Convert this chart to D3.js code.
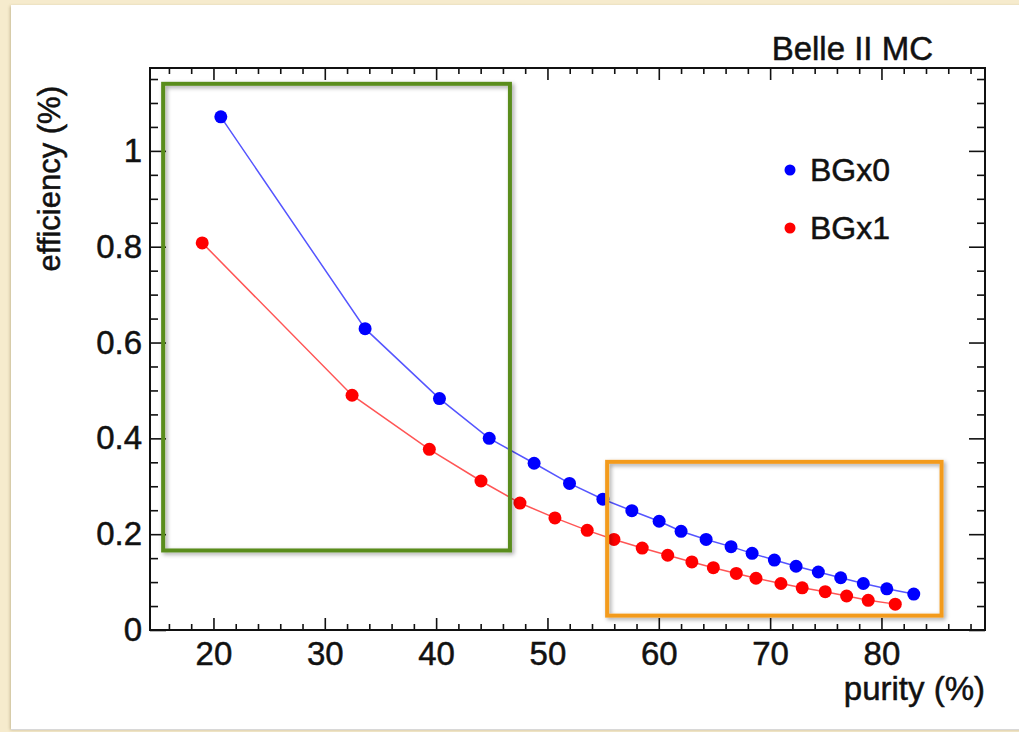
<!DOCTYPE html>
<html>
<head>
<meta charset="utf-8">
<script src="https://cdn.jsdelivr.net/npm/d3@7"></script>
<style>
  html, body { margin: 0; padding: 0; background: #f6ebcd; }
  svg { display: block; }
  text { font-family: "Liberation Sans", Arial, Helvetica, sans-serif; fill: #111; stroke: #111; stroke-width: 0.5px; }
</style>
</head>
<body>
<div id="chart"></div>
<script>
/* global d3 */

// purity (%) vs efficiency (%)
var bg0Purity = [20.66, 33.62, 40.3, 44.77, 48.8, 51.98, 54.98, 57.58, 60.03, 62.0,
  64.25, 66.49, 68.38, 70.38, 72.33, 74.33, 76.34, 78.37, 80.48, 82.9];
var bg0Eff = [1.071, 0.629, 0.483, 0.400, 0.348, 0.306, 0.273, 0.249, 0.227, 0.206,
  0.189, 0.174, 0.160, 0.146, 0.133, 0.121, 0.109, 0.097, 0.086, 0.075];
var bg1Purity = [18.99, 32.45, 39.39, 44.03, 47.53, 50.67, 53.57, 55.97, 58.51, 60.8,
  62.97, 64.9, 66.96, 68.73, 70.97, 72.88, 74.95, 76.87, 78.81, 81.24];
var bg1Eff = [0.808, 0.490, 0.377, 0.311, 0.265, 0.234, 0.208, 0.189, 0.171, 0.156,
  0.142, 0.130, 0.118, 0.108, 0.097, 0.088, 0.080, 0.071, 0.062, 0.054];

var seriesNames = ['BGx0', 'BGx1'];
var xMajorTicks = [20, 30, 40, 50, 60, 70, 80];
var yMajorTicks = [0, 0.2, 0.4, 0.6, 0.8, 1];

// highlight boxes in data units: [x0, x1, y0, y1]
var greenBox = [15.48, 46.63, 0.166, 1.14];
var orangeBox = [55.36, 85.4, 0.03, 0.351];

var w = 1019,
h = 732,
m = { left: 150, right: 34, top: 68, bottom: 102 };

var svg = d3.select('#chart').
append('svg').
attr('width', w).
attr('height', h);

var defs = svg.append('defs');
var shadow = defs.append('filter').attr('id', 'shadow').
attr('x', '-5%').attr('y', '-5%').attr('width', '115%').attr('height', '115%');
shadow.append('feDropShadow').attr('dx', 2).attr('dy', 2).
attr('stdDeviation', 2).attr('flood-color', '#000').attr('flood-opacity', 0.35);
var cardShadow = defs.append('filter').attr('id', 'cardShadow').
attr('x', '-5%').attr('y', '-5%').attr('width', '110%').attr('height', '110%');
cardShadow.append('feDropShadow').attr('dx', -1).attr('dy', 1).
attr('stdDeviation', 1.5).attr('flood-color', '#8a7a50').attr('flood-opacity', 0.45);

// white card on the beige page
svg.append('rect').
attr('x', 11).attr('y', 5).
attr('width', w).attr('height', 724).
attr('fill', '#fff').
attr('filter', 'url(#cardShadow)');
svg.append('line').
attr('x1', 11).attr('x2', w).attr('y1', 729.5).attr('y2', 729.5).
attr('stroke', '#d8d8d8').attr('stroke-width', 1);

var x = d3.scaleLinear().domain([14.3, 89.3]).range([m.left, w - m.right]);
var y = d3.scaleLinear().domain([0, 1.173]).range([h - m.bottom, m.top]);

var xMinor = d3.range(16, 89.3, 2).filter(v => xMajorTicks.indexOf(v) < 0);
var yMinor = d3.range(0.05, 1.17, 0.05).map(v => +v.toFixed(2)).
filter(v => yMajorTicks.every(t => Math.abs(t - v) > 1e-6));

var fmt = d => d === 0 ? '0' : d === 1 ? '1' : d3.format('.1f')(d);

function drawAxis(axis, tx, ty) {
  var g = svg.append('g').attr('transform', 'translate(' + tx + ',' + ty + ')').call(axis);
  g.select('.domain').remove();
  g.selectAll('line').attr('stroke', '#111').attr('stroke-width', 1.6);
  return g;
}

var plotH = h - m.bottom - m.top;
var plotW = w - m.right - m.left;

// bottom axis with labels, ticks inward
var xAxisG = drawAxis(d3.axisBottom(x).tickValues(xMajorTicks).tickSize(-12).tickPadding(12).tickFormat(d3.format('d')),
0, h - m.bottom);
xAxisG.selectAll('text').attr('font-size', 33).attr('fill', '#111');
drawAxis(d3.axisBottom(x).tickValues(xMinor).tickSize(-6).tickFormat(''), 0, h - m.bottom);
drawAxis(d3.axisTop(x).tickValues(xMajorTicks).tickSize(-12).tickFormat(''), 0, m.top);
drawAxis(d3.axisTop(x).tickValues(xMinor).tickSize(-6).tickFormat(''), 0, m.top);

var yAxisG = drawAxis(d3.axisLeft(y).tickValues(yMajorTicks).tickSize(-16).tickPadding(8).tickFormat(fmt),
m.left, 0);
yAxisG.selectAll('text').attr('font-size', 33).attr('fill', '#111');
drawAxis(d3.axisLeft(y).tickValues(yMinor).tickSize(-8).tickFormat(''), m.left, 0);
drawAxis(d3.axisRight(y).tickValues(yMajorTicks).tickSize(-16).tickFormat(''), w - m.right, 0);
drawAxis(d3.axisRight(y).tickValues(yMinor).tickSize(-8).tickFormat(''), w - m.right, 0);

// frame
svg.append('rect').
attr('x', m.left).attr('y', m.top).
attr('width', plotW).attr('height', plotH).
attr('fill', 'none').attr('stroke', '#111').attr('stroke-width', 2);

// axis titles
svg.append('text').
attr('x', w - m.right).attr('y', 700).
attr('text-anchor', 'end').attr('font-size', 33).
text('purity (%)');
svg.append('text').
attr('transform', 'translate(60,86) rotate(-90)').
attr('text-anchor', 'end').attr('font-size', 31).
text('efficiency (%)');
svg.append('text').
attr('x', 933).attr('y', 60).
attr('text-anchor', 'end').attr('font-size', 33).
text('Belle II MC');

// series
var series = [
{ name: seriesNames[0], color: '#0000ff', line: '#5555ff',
  pts: bg0Purity.map((p, i) => [p, bg0Eff[i]]) },
{ name: seriesNames[1], color: '#ff0000', line: '#ff5555',
  pts: bg1Purity.map((p, i) => [p, bg1Eff[i]]) }];

var line = d3.line().x(d => x(d[0])).y(d => y(d[1]));

series.forEach(function (s) {
  svg.append('path').
  datum(s.pts).
  attr('d', line).
  attr('fill', 'none').
  attr('stroke', s.line).
  attr('stroke-width', 1.5);
  svg.append('g').selectAll('circle').
  data(s.pts).
  enter().
  append('circle').
  attr('cx', d => x(d[0])).
  attr('cy', d => y(d[1])).
  attr('r', 6.5).
  attr('fill', s.color);
});

// legend
var legend = svg.append('g').selectAll('g').
data(series).
enter().
append('g').
attr('transform', (d, i) => 'translate(790,' + (170 + i * 58) + ')');
legend.append('circle').attr('r', 5.5).attr('fill', d => d.color);
legend.append('text').
attr('x', 20).attr('y', 11).
attr('font-size', 32).
text(d => d.name);

// highlight boxes
[{ box: greenBox, color: '#5a8d1f' }, { box: orangeBox, color: '#f39b1f' }].forEach(function (b) {
  svg.append('rect').
  attr('x', x(b.box[0])).
  attr('y', y(b.box[3])).
  attr('width', x(b.box[1]) - x(b.box[0])).
  attr('height', y(b.box[2]) - y(b.box[3])).
  attr('fill', 'none').
  attr('stroke', b.color).
  attr('stroke-width', 4).
  attr('filter', 'url(#shadow)');
});
</script>
</body>
</html>
